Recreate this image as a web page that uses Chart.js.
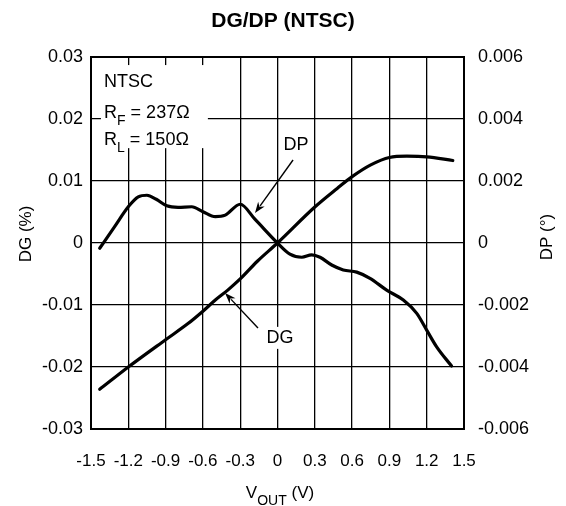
<!DOCTYPE html>
<html>
<head>
<meta charset="utf-8">
<script src="https://cdn.jsdelivr.net/npm/chart.js@4.4.1/dist/chart.umd.min.js"></script>
<style>
    html, body { margin: 0; padding: 0; background: #fff; }
    #wrap { width: 566px; height: 506px; }
</style>
</head>
<body>
<div id="wrap"><canvas id="chart" width="566" height="506"></canvas></div>
<script>
// ─── Data ───────────────────────────────────────────────────────
// DG (%) – left axis
const dgVout = [-1.43, -1.2, -0.9, -0.72, -0.6, -0.5, -0.4, -0.3, -0.16, 0, 0.3, 0.48, 0.6, 0.75, 0.9, 1.04, 1.2, 1.41];
const dgVals = [-0.0236, -0.0200, -0.0156, -0.0130, -0.0110, -0.0092, -0.0076, -0.0058, -0.0029, 0, 0.0058, 0.0088, 0.0107, 0.0126, 0.0138, 0.0140, 0.0139, 0.0133];

// DP (°) – right axis
const dpVout = [-1.43, -1.31, -1.2, -1.12, -1.05, -0.975, -0.89, -0.8, -0.69, -0.6, -0.5, -0.42, -0.3, -0.18, 0, 0.1, 0.195, 0.275, 0.342, 0.436, 0.529, 0.637, 0.744, 0.878, 1.012, 1.12, 1.2, 1.28, 1.4];
const dpVals = [-0.00017, 0.00053, 0.00117, 0.00149, 0.00154, 0.00141, 0.00120, 0.00115, 0.00117, 0.00101, 0.00085, 0.00090, 0.00125, 0.00076, 0, -0.00036, -0.00046, -0.00038, -0.00046, -0.00071, -0.00087, -0.00094, -0.00114, -0.00152, -0.00184, -0.00227, -0.00281, -0.00335, -0.00397];

// Tick labels
const xTicks = [-1.5, -1.2, -0.9, -0.6, -0.3, 0, 0.3, 0.6, 0.9, 1.2, 1.5];
const dgTicks = [-0.03, -0.02, -0.01, 0, 0.01, 0.02, 0.03];
const dpTicks = [-0.006, -0.004, -0.002, 0, 0.002, 0.004, 0.006];

const FONT = "'Liberation Sans', Arial, Helvetica, sans-serif";

const toPoints = (xs, ys) => xs.map((x, i) => ({ x: x, y: ys[i] }));
const fixedTicks = (values) => (scale) => { scale.ticks = values.map(v => ({ value: v })); };

// ─── Annotations: text box, labels, arrows, axis titles ────────
const annotations = {
    id: 'annotations',
    beforeDatasetsDraw(chart) {
        const { ctx, scales: { x, y } } = chart;
        // white box that hides the grid behind the condition text
        const bx0 = x.getPixelForValue(-1.42), bx1 = x.getPixelForValue(-0.56);
        const by0 = y.getPixelForValue(0.0287), by1 = y.getPixelForValue(0.0153);
        ctx.save();
        ctx.fillStyle = '#fff';
        ctx.fillRect(bx0, by0, bx1 - bx0, by1 - by0);

        // white patch behind "DG"
        const gx = x.getPixelForValue(0.02), gy = y.getPixelForValue(-0.0153);
        ctx.fillRect(gx - 15, gy - 11, 30, 22);

        ctx.fillStyle = '#000';
        ctx.textBaseline = 'alphabetic';
        ctx.textAlign = 'left';
        const tx = x.getPixelForValue(-1.395);
        ctx.font = `18px ${FONT}`;
        ctx.fillText('NTSC', tx, 87);
        drawSub(ctx, tx, 118, 'R', 'F', ' = 237Ω');
        drawSub(ctx, tx, 145, 'R', 'L', ' = 150Ω');
        ctx.restore();
    },
    afterDatasetsDraw(chart) {
        const { ctx, scales: { x, y } } = chart;
        ctx.save();
        ctx.fillStyle = '#000';
        ctx.font = `18px ${FONT}`;
        ctx.textAlign = 'center';
        ctx.textBaseline = 'middle';
        ctx.fillText('DP', x.getPixelForValue(0.149), y.getPixelForValue(0.0158));
        ctx.fillText('DG', x.getPixelForValue(0.02), y.getPixelForValue(-0.0153));

        arrow(ctx, x.getPixelForValue(0.125), y.getPixelForValue(0.01339),
                   x.getPixelForValue(-0.181), y.getPixelForValue(0.00484));
        arrow(ctx, x.getPixelForValue(-0.157), y.getPixelForValue(-0.0137),
                   x.getPixelForValue(-0.422), y.getPixelForValue(-0.00806));
        ctx.restore();
    },
    afterDraw(chart) {
        const { ctx } = chart;
        ctx.save();
        ctx.fillStyle = '#000';
        ctx.textAlign = 'center';
        ctx.textBaseline = 'middle';

        ctx.font = `bold 21px ${FONT}`;
        ctx.fillText('DG/DP (NTSC)', 283, 21);

        ctx.font = `17px ${FONT}`;
        ctx.save();
        ctx.translate(26, 234);
        ctx.rotate(-Math.PI / 2);
        ctx.fillText('DG (%)', 0, 0);
        ctx.restore();

        ctx.save();
        ctx.translate(547, 237);
        ctx.rotate(-Math.PI / 2);
        ctx.fillText('DP (°)', 0, 0);
        ctx.restore();

        // V_OUT (V)
        ctx.textAlign = 'left';
        ctx.textBaseline = 'alphabetic';
        const main = `17px ${FONT}`, sub = `14px ${FONT}`;
        ctx.font = main; const wV = ctx.measureText('V').width; const wP = ctx.measureText(' (V)').width;
        ctx.font = sub; const wO = ctx.measureText('OUT').width;
        let px = 280 - (wV + wO + wP) / 2;
        ctx.font = main; ctx.fillText('V', px, 498); px += wV;
        ctx.font = sub; ctx.fillText('OUT', px, 505); px += wO;
        ctx.font = main; ctx.fillText(' (V)', px, 498);
        ctx.restore();
    }
};

function drawSub(ctx, x, baseline, main, sub, rest) {
    ctx.font = `18px ${FONT}`;
    ctx.fillText(main, x, baseline);
    let px = x + ctx.measureText(main).width;
    ctx.font = `14px ${FONT}`;
    ctx.fillText(sub, px, baseline + 7);
    px += ctx.measureText(sub).width;
    ctx.font = `18px ${FONT}`;
    ctx.fillText(rest, px, baseline);
}

function arrow(ctx, x0, y0, x1, y1) {
    const a = Math.atan2(y1 - y0, x1 - x0);
    const len = 11, half = 4;
    ctx.strokeStyle = '#000';
    ctx.lineWidth = 1.4;
    ctx.beginPath();
    ctx.moveTo(x0, y0);
    ctx.lineTo(x1 - Math.cos(a) * len * 0.8, y1 - Math.sin(a) * len * 0.8);
    ctx.stroke();
    ctx.beginPath();
    ctx.moveTo(x1, y1);
    ctx.lineTo(x1 - Math.cos(a) * len - Math.sin(a) * half, y1 - Math.sin(a) * len + Math.cos(a) * half);
    ctx.lineTo(x1 - Math.cos(a) * len * 0.7, y1 - Math.sin(a) * len * 0.7);
    ctx.lineTo(x1 - Math.cos(a) * len + Math.sin(a) * half, y1 - Math.sin(a) * len - Math.cos(a) * half);
    ctx.closePath();
    ctx.fill();
}

// ─── Chart ──────────────────────────────────────────────────────
new Chart(document.getElementById('chart'), {
    type: 'line',
    data: {
        datasets: [
            {
                label: 'DG',
                data: toPoints(dgVout, dgVals),
                yAxisID: 'y',
                borderColor: '#000',
                borderWidth: 3.2,
                pointRadius: 0,
                cubicInterpolationMode: 'monotone',
                borderCapStyle: 'round',
                fill: false
            },
            {
                label: 'DP',
                data: toPoints(dpVout, dpVals),
                yAxisID: 'y2',
                borderColor: '#000',
                borderWidth: 3.2,
                pointRadius: 0,
                cubicInterpolationMode: 'monotone',
                borderCapStyle: 'round',
                fill: false
            }
        ]
    },
    options: {
        responsive: false,
        animation: false,
        layout: { padding: { top: 57, left: 0, right: 0, bottom: 0 } },
        plugins: {
            legend: { display: false },
            tooltip: { enabled: false },
            title: { display: false }
        },
        scales: {
            x: {
                type: 'linear',
                min: -1.5, max: 1.5,
                afterBuildTicks: fixedTicks(xTicks),
                afterFit: (s) => { s.height = 77; },
                grid: { color: '#000', lineWidth: 1.3, drawTicks: false },
                border: { display: true, color: '#000', width: 2 },
                ticks: {
                    color: '#000', padding: 22,
                    font: { family: FONT, size: 17 },
                    callback: (v) => String(Math.round(v * 10) / 10)
                }
            },
            y: {
                type: 'linear',
                position: 'left',
                min: -0.03, max: 0.03,
                afterBuildTicks: fixedTicks(dgTicks),
                afterFit: (s) => { s.width = 91; },
                grid: {
                    color: '#000', drawTicks: false,
                    lineWidth: (c) => (c.tick && c.tick.value === 0.03 ? 2 : 1.3)
                },
                border: { display: true, color: '#000', width: 2 },
                ticks: {
                    color: '#000', padding: 8,
                    font: { family: FONT, size: 18 },
                    callback: (v) => String(Math.round(v * 100) / 100)
                }
            },
            y2: {
                type: 'linear',
                position: 'right',
                min: -0.006, max: 0.006,
                afterBuildTicks: fixedTicks(dpTicks),
                afterFit: (s) => { s.width = 102; },
                grid: { display: false, drawTicks: false },
                border: { display: true, color: '#000', width: 2 },
                ticks: {
                    color: '#000', padding: 14,
                    font: { family: FONT, size: 18 },
                    callback: (v) => String(Math.round(v * 1000) / 1000)
                }
            }
        }
    },
    plugins: [annotations]
});
</script>
</body>
</html>
